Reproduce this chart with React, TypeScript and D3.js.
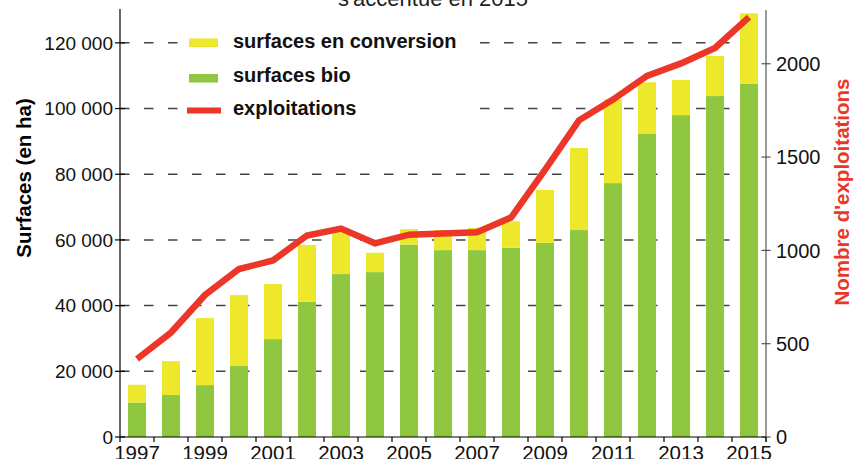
import React from "react";
import * as d3 from "d3";

const years = ["1997","1998","1999","2000","2001","2002","2003","2004","2005","2006","2007","2008","2009","2010","2011","2012","2013","2014","2015"];
const surfacesBio = [10500, 12800, 15800, 21600, 29800, 41200, 49600, 50200, 58600, 56900, 56900, 57600, 59100, 63000, 77300, 92400, 98000, 103800, 107500];
const surfacesConversion = [5400, 10300, 20400, 21600, 16800, 17300, 12900, 5900, 4700, 6100, 6800, 8100, 16100, 25000, 25500, 15600, 10700, 12200, 21500];
const exploitations = [418, 560, 761, 900, 946, 1080, 1117, 1038, 1084, 1091, 1097, 1176, 1431, 1697, 1808, 1935, 2002, 2085, 2250];
const leftTicks = [0, 20000, 40000, 60000, 80000, 100000, 120000];
const rightTicks = [0, 500, 1000, 1500, 2000];
const legendLabels = ["surfaces en conversion", "surfaces bio", "exploitations"];
const titleText = "s'accentue en 2015";
const leftTitle = "Surfaces (en ha)";
const rightTitle = "Nombre d'exploitations";

const W = 862, H = 459;
const X0 = 120, X1 = 766, Y0 = 437, YT = 10;
const YELLOW = "#eee82c";
const GREEN = "#8fc741";
const RED = "#ec3628";
const FONT = "'Liberation Sans', Arial, sans-serif";

const fmt = (v: number) => {
  if (v === 0) return "0";
  const s = String(v);
  return s.replace(/\B(?=(\d{3})+(?!\d))/g, " ");
};

export default function App() {
  const x = d3.scaleBand<string>().domain(years).range([X0, X1]).paddingInner(0.47).paddingOuter(0.235);
  const step = x.step();
  const yL = d3.scaleLinear().domain([0, 130000]).range([Y0, YT]);
  const yR = d3.scaleLinear().domain([0, 2288]).range([Y0, YT]);
  const line = d3.line<number>()
    .x((_, i) => (x(years[i]) as number) + x.bandwidth() / 2)
    .y((d) => yR(d));

  return (
    <svg width={W} height={H} style={{ position: "absolute", left: 0, top: 0, background: "#fff" }} fontFamily={FONT}>
      {/* title (cut) */}
      <text x={433} y={6} textAnchor="middle" fontSize={22} fill="#222">{titleText}</text>

      {/* gridlines */}
      {leftTicks.filter((t) => t > 0).map((t) => (
        <line key={"g" + t} x1={X0} x2={X1} y1={yL(t)} y2={yL(t)} stroke="#444" strokeWidth={1.5} strokeDasharray="9.5,14.5" />
      ))}

      {/* legend background */}
      <rect x={178} y={24} width={300} height={102} fill="#fff" />

      {/* bars */}
      {years.map((yr, i) => {
        const bx = x(yr) as number;
        const bio = surfacesBio[i];
        const conv = surfacesConversion[i];
        return (
          <g key={yr}>
            <rect x={bx} width={x.bandwidth()} y={yL(bio)} height={Y0 - yL(bio)} fill={GREEN} />
            <rect x={bx} width={x.bandwidth()} y={yL(bio + conv)} height={yL(bio) - yL(bio + conv)} fill={YELLOW} />
          </g>
        );
      })}

      {/* line */}
      <path d={line(exploitations) || ""} fill="none" stroke={RED} strokeWidth={6.5} strokeLinejoin="miter" />

      {/* left axis */}
      <line x1={X0} x2={X0} y1={9} y2={Y0} stroke="#000" strokeWidth={1.2} />
      {leftTicks.map((t) => (
        <g key={"l" + t}>
          <line x1={X0 - 5} x2={X0 + 5} y1={yL(t)} y2={yL(t)} stroke="#000" strokeWidth={1.2} />
          <text x={113} y={yL(t) + 6.8} textAnchor="end" fontSize={19} fill="#111">{fmt(t)}</text>
        </g>
      ))}

      {/* right axis */}
      <line x1={X1} x2={X1} y1={YT} y2={Y0 + 5} stroke="#555" strokeWidth={1.2} />
      {rightTicks.map((t) => (
        <g key={"r" + t}>
          <line x1={X1 - 4.5} x2={X1 + 4.5} y1={yR(t)} y2={yR(t)} stroke="#555" strokeWidth={1.2} />
          <text x={776} y={yR(t) + 7.2} textAnchor="start" fontSize={20} fill="#111">{String(t)}</text>
        </g>
      ))}

      {/* x axis */}
      <line x1={X0} x2={X1} y1={Y0} y2={Y0} stroke="#000" strokeWidth={1.2} />
      {d3.range(years.length + 1).map((i) => (
        <line key={"xt" + i} x1={X0 + i * step} x2={X0 + i * step} y1={Y0} y2={Y0 + 5} stroke="#000" strokeWidth={1.2} />
      ))}
      {years.map((yr, i) =>
        i % 2 === 0 ? (
          <text key={"xl" + yr} x={(x(yr) as number) + x.bandwidth() / 2} y={460} textAnchor="middle" fontSize={20.5} fill="#111">{yr}</text>
        ) : null
      )}

      {/* axis titles */}
      <text transform="translate(31,178) rotate(-90)" textAnchor="middle" fontSize={20.5} fontWeight="bold" fill="#000">{leftTitle}</text>
      <text transform="translate(849,192) rotate(-90)" textAnchor="middle" fontSize={20.5} fontWeight="bold" fill={RED}>{rightTitle}</text>

      {/* legend */}
      <rect x={189} y={38.5} width={29} height={8.5} fill={YELLOW} />
      <text x={233} y={47.5} fontSize={20} fontWeight="bold" fill="#111">{legendLabels[0]}</text>
      <rect x={189} y={74} width={29} height={8.5} fill={GREEN} />
      <text x={233} y={81.5} fontSize={20} fontWeight="bold" fill="#111">{legendLabels[1]}</text>
      <line x1={187} x2={221} y1={110.5} y2={110.5} stroke={RED} strokeWidth={6} />
      <text x={233} y={114.5} fontSize={20} fontWeight="bold" fill="#111">{legendLabels[2]}</text>
    </svg>
  );
}
